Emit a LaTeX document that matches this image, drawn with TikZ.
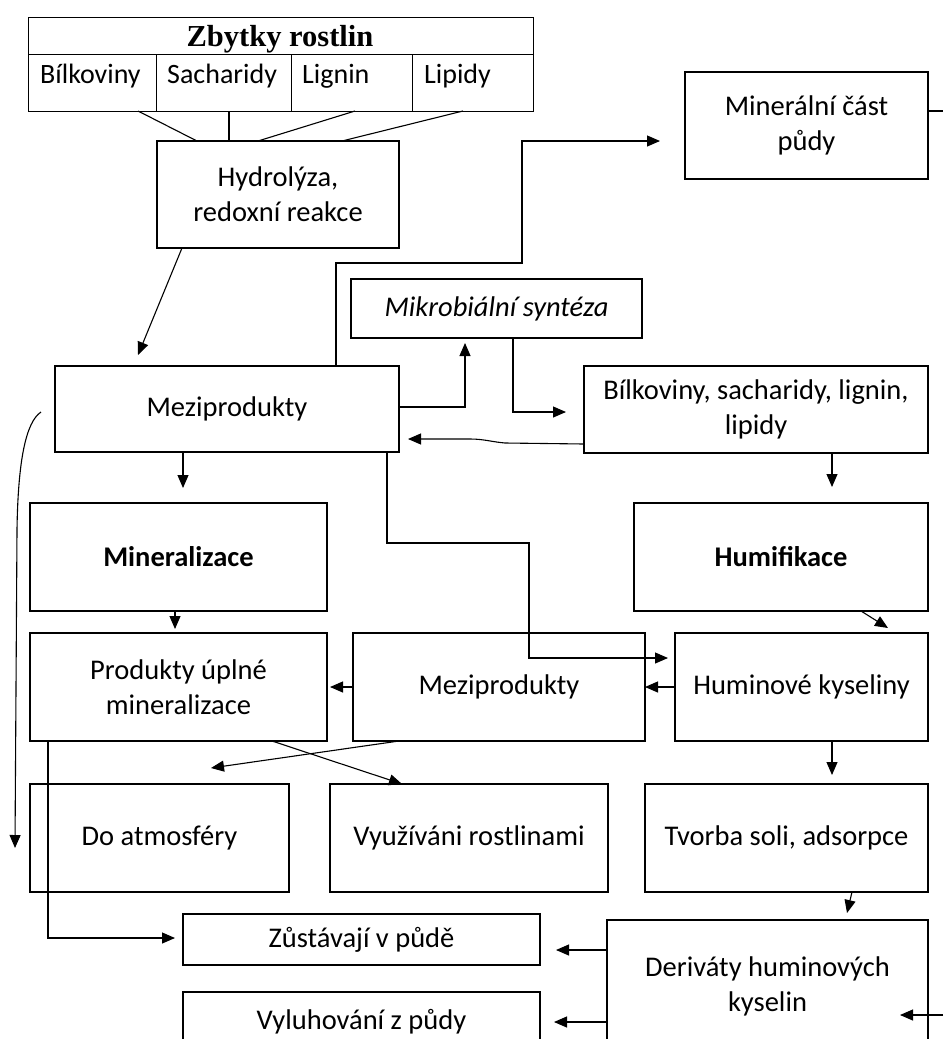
\documentclass[tikz,border=0pt]{standalone}
\usepackage{fontspec}
\setmainfont{Carlito}
\newfontfamily\hdrfont{Liberation Serif}
\usetikzlibrary{arrows.meta,calc}
\begin{document}
\begin{tikzpicture}[x=1pt,y=-1pt,
  box/.style={draw,line width=2.3pt,inner sep=0pt,outer sep=0pt,align=center,font=\fontsize{28.5}{35}\selectfont},
  tblline/.style={line width=1pt},
  conn/.style={line width=1.1pt},
  arr/.style={conn,-{Triangle[length=13pt,width=11pt]}},
  cell/.style={inner sep=0pt,anchor=base west,font=\fontsize{28}{34}\selectfont}]
\useasboundingbox (0,0) rectangle (943,1039);
\clip (0,0) rectangle (943,1039);

% table
\node[draw,tblline,inner sep=0pt,outer sep=0pt,minimum width=505pt,minimum height=94pt] (tbl) at (280.5,64) {};
\draw[tblline] (tbl.west |- 0,54) -- (tbl.east |- 0,54);
\draw[tblline] (156,54) -- (tbl.south -| 156,0);
\draw[tblline] (291,54) -- (tbl.south -| 291,0);
\draw[tblline] (412,54) -- (tbl.south -| 412,0);
\node[inner sep=0pt,anchor=base,font=\hdrfont\bfseries\fontsize{30.5}{36}\selectfont] (hdr) at (280,46) {Zbytky rostlin};
\node[cell] (c1) at (40,83) {Bílkoviny};
\node[cell] (c2) at (167,83) {Sacharidy};
\node[cell] (c3) at (302,83) {Lignin};
\node[cell] (c4) at (424,83) {Lipidy};

% boxes
\node[box,minimum width=242pt,minimum height=107pt] (hyd) at (278,194.5) {Hydrolýza,\\redoxní reakce};
\node[box,minimum width=243pt,minimum height=107pt] (min) at (806.5,125.5) {Minerální část\\půdy};
\node[box,minimum width=291pt,minimum height=59pt] (mik) at (496.5,308.5) {\textit{Mikrobiální syntéza}};
\node[box,minimum width=344pt,minimum height=86pt] (mez1) at (227,409) {Meziprodukty};
\node[box,minimum width=344pt,minimum height=87pt] (bil) at (756,409.5) {Bílkoviny, sacharidy, lignin,\\lipidy};
\node[box,minimum width=297pt,minimum height=108pt] (minz) at (178.5,557) {\textbf{Mineralizace}};
\node[box,minimum width=294pt,minimum height=108pt] (hum) at (781,557) {\textbf{Humifikace}};
\node[box,minimum width=297pt,minimum height=108pt] (prod) at (178.5,687) {Produkty úplné\\mineralizace};
\node[box,minimum width=292pt,minimum height=108pt] (mez2) at (499,687) {Meziprodukty};
\node[box,minimum width=253pt,minimum height=108pt] (hk) at (801.5,687) {Huminové kyseliny};
\node[box,minimum width=259pt,minimum height=108pt] (atm) at (159.5,838) {Do atmosféry};
\node[box,minimum width=278pt,minimum height=108pt] (vyu) at (469,838) {Využíváni rostlinami};
\node[box,minimum width=283pt,minimum height=108pt] (tvo) at (786.5,838) {Tvorba soli, adsorpce};
\node[box,minimum width=357pt,minimum height=51pt] (zus) at (361.5,939.5) {Zůstávají v půdě};
\node[box,minimum width=357pt,minimum height=60pt] (vyl) at (361.5,1022) {Vyluhování z půdy};
\node[box,minimum width=321pt,minimum height=132pt] (der) at (767.5,986) {Deriváty huminových\\kyselin};

% free ends
\coordinate (rout) at (943,111);
\coordinate (rin) at (943,1015);
\coordinate (cst) at (41,412);

% table to hydrolysis
\draw[conn] ([xshift=110pt]tbl.south west) -- ([xshift=40pt]hyd.north west);
\draw[conn] ([xshift=201pt]tbl.south west) -- ([xshift=72pt]hyd.north west);
\draw[conn] ([xshift=327pt]tbl.south west) -- ([xshift=101pt]hyd.north west);
\draw[conn] ([xshift=435pt]tbl.south west) -- ([xshift=185pt]hyd.north west);

% connectors
\draw[arr] ([xshift=25pt]hyd.south west) -- ([xshift=83pt,yshift=11pt]mez1.north west);
\draw[arr] (mez1.north -| 336,0) -- (336,263) -- (522,263) -- (522,141) -- ([xshift=-25pt]min.west |- 0,141);
\draw[conn] (min.east |- rout) -- (rout);
\draw[arr] (mez1.east |- 0,407) -- (465,407) -- ([yshift=-5pt]mik.south -| 465,0);
\draw[arr] (mik.south -| 513,0) -- (513,412) -- ([xshift=-18pt]bil.west |- 0,412);
\draw[arr] (bil.west |- 0,444) -- (505,443) to[out=175,in=0] (470,439) -- ([xshift=9pt]mez1.east |- 0,439);
\draw[arr] (mez1.south -| 183,0) -- ([yshift=15pt]minz.north -| 183,0);
\draw[arr] (mez1.south -| 387,0) -- (387,543) -- (529,543) -- (529,658) -- ([xshift=-7pt]hk.west |- 0,658);
\draw[arr] (bil.south -| 832,0) -- ([yshift=16pt]hum.north -| 832,0);
\draw[arr] (minz.south -| 175,0) -- ([yshift=4pt]prod.north -| 175,0);
\draw[arr] (hum.south -| 861,0) -- ([xshift=213pt,yshift=5pt]hk.north west);
\draw[arr] (hk.west |- 0,687) -- (mez2.east |- 0,687);
\draw[arr] (mez2.west |- 0,687) -- ([xshift=3pt]prod.east |- 0,687);
\draw[arr] (prod.south -| 272,0) -- ([xshift=72pt]vyu.north west);
\draw[arr] (mez2.south -| 399,0) -- ([xshift=181pt,yshift=16pt]atm.north west);
\draw[arr] (hk.south -| 832,0) -- ([yshift=9pt]tvo.north -| 832,0);
\draw[arr] (tvo.south -| 852,0) -- ([xshift=240pt,yshift=7pt]der.north west);
\draw[arr] (der.west |- 0,950) -- ([xshift=16pt]zus.east |- 0,950);
\draw[arr] (der.west |- 0,1022) -- ([xshift=14pt]vyl.east |- 0,1022);
\draw[arr] (rin) -- ([xshift=-28pt]der.east |- rin);
\draw[arr] (prod.south -| 48,0) -- (48,938) -- ([xshift=-8pt]zus.west |- 0,938);
\draw[arr] (cst) .. controls (26,422) and (18,460) .. (17,530) -- (15,848);
\end{tikzpicture}
\end{document}
